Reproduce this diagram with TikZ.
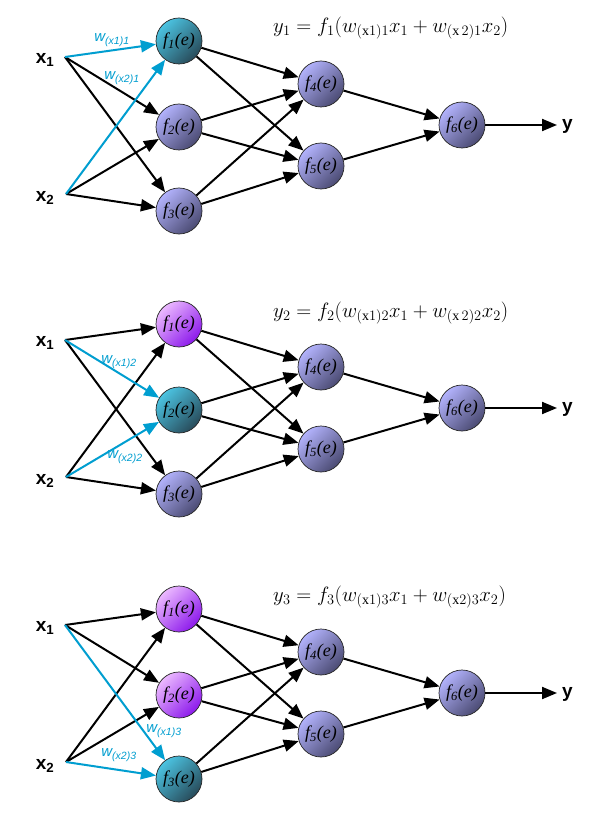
\documentclass[tikz,border=0pt]{standalone}
\usepackage{fontspec}
\setmainfont{Liberation Serif}
\setsansfont{Liberation Sans}
\usetikzlibrary{arrows.meta}
\definecolor{wblue}{RGB}{0,158,208}
\definecolor{lavtop}{RGB}{178,178,252}
\definecolor{lavmid}{RGB}{140,140,215}
\definecolor{lavbot}{RGB}{75,75,115}
\definecolor{teatop}{RGB}{75,195,225}
\definecolor{teamid}{RGB}{50,140,170}
\definecolor{teabot}{RGB}{40,75,90}
\definecolor{purtop}{RGB}{235,185,255}
\definecolor{purmid}{RGB}{200,120,250}
\definecolor{purbot}{RGB}{140,25,235}
\tikzset{
  neuron/.style={circle, draw=black!85, line width=0.7pt, minimum size=46pt, inner sep=0pt,
    font=\fontsize{18}{18}\selectfont\itshape},
  lav/.style={neuron, top color=lavtop, middle color=lavmid, bottom color=lavbot, shading angle=45},
  tea/.style={neuron, top color=teatop, middle color=teamid, bottom color=teabot, shading angle=45},
  pur/.style={neuron, top color=purtop, middle color=purmid, bottom color=purbot, shading angle=45},
  conn/.style={line width=2pt, -{Triangle[length=15pt,width=12pt]}},
  bconn/.style={conn, wblue},
  xlab/.style={font=\fontsize{19}{19}\selectfont\sffamily\bfseries, inner sep=0pt},
  wlab/.style={font=\fontsize{15}{15}\selectfont\sffamily\itshape, text=wblue, inner sep=0pt},
  eqn/.style={font=\fontsize{20}{20}\selectfont, inner sep=0pt, anchor=west},
}
\newcommand\drawpanel[3]{%
  \begin{scope}[yshift=-#2pt]
    \coordinate (#1x1) at (65,57);
    \coordinate (#1x2) at (66,194);
    \node[xlab] (#1lx1) at (45,60) {x\textsubscript{1}};
    \node[xlab] (#1lx2) at (45,198) {x\textsubscript{2}};
    \foreach \j/\yy in {1/41,2/127,3/211}{
      \ifnum\j<#3\relax
        \node[pur] (#1f\j) at (179,\yy) {f\textsubscript{\j}(e)};
      \else\ifnum\j=#3\relax
        \node[tea] (#1f\j) at (179,\yy) {f\textsubscript{\j}(e)};
      \else
        \node[lav] (#1f\j) at (179,\yy) {f\textsubscript{\j}(e)};
      \fi\fi
    }
    \node[lav] (#1f4) at (321,84) {f\textsubscript{4}(e)};
    \node[lav] (#1f5) at (321,166) {f\textsubscript{5}(e)};
    \node[lav] (#1f6) at (462,125) {f\textsubscript{6}(e)};
    \coordinate (#1yend) at (557,125);
    \node[xlab, anchor=west] (#1ly) at (562,126) {y};
    \foreach \j in {1,2,3}{
      \ifnum\j=#3\relax\else
        \draw[conn] (#1x1) -- (#1f\j);
        \draw[conn] (#1x2) -- (#1f\j);
      \fi
      \draw[conn] (#1f\j) -- (#1f4);
      \draw[conn] (#1f\j) -- (#1f5);
    }
    \draw[conn] (#1f4) -- (#1f6);
    \draw[conn] (#1f5) -- (#1f6);
    \draw[conn] (#1f6) -- (#1yend);
    \draw[bconn] (#1x1) -- (#1f#3);
    \draw[bconn] (#1x2) -- (#1f#3);
  \end{scope}%
}
\begin{document}
\begin{tikzpicture}[x=1pt,y=-1pt]
  \useasboundingbox[fill=white] (0,0) rectangle (598,834);
  \drawpanel{a}{0}{1}
  \drawpanel{b}{283}{2}
  \drawpanel{c}{568}{3}
  % equations
  \node[eqn] (eqa) at (273,28) {$y_1 = f_1(w_{(\mathrm{x}1)1}x_1 + w_{(\mathrm{x}\,2)1}x_2)$};
  \node[eqn] (eqb) at (273,313) {$y_2 = f_2(w_{(\mathrm{x}1)2}x_1 + w_{(\mathrm{x}\,2)2}x_2)$};
  \node[eqn] (eqc) at (273,597) {$y_3 = f_3(w_{(\mathrm{x}1)3}x_1 + w_{(\mathrm{x}2)3}x_2)$};
  % weight labels
  \node[wlab] (wa1) at (112,40) {w\textsubscript{(x1)1}};
  \node[wlab] (wa2) at (122,78) {w\textsubscript{(x2)1}};
  \node[wlab] (wb1) at (119,362) {w\textsubscript{(x1)2}};
  \node[wlab] (wb2) at (125,457) {w\textsubscript{(x2)2}};
  \node[wlab] (wc1) at (164,731) {w\textsubscript{(x1)3}};
  \node[wlab] (wc2) at (119,755) {w\textsubscript{(x2)3}};
\end{tikzpicture}
\end{document}
